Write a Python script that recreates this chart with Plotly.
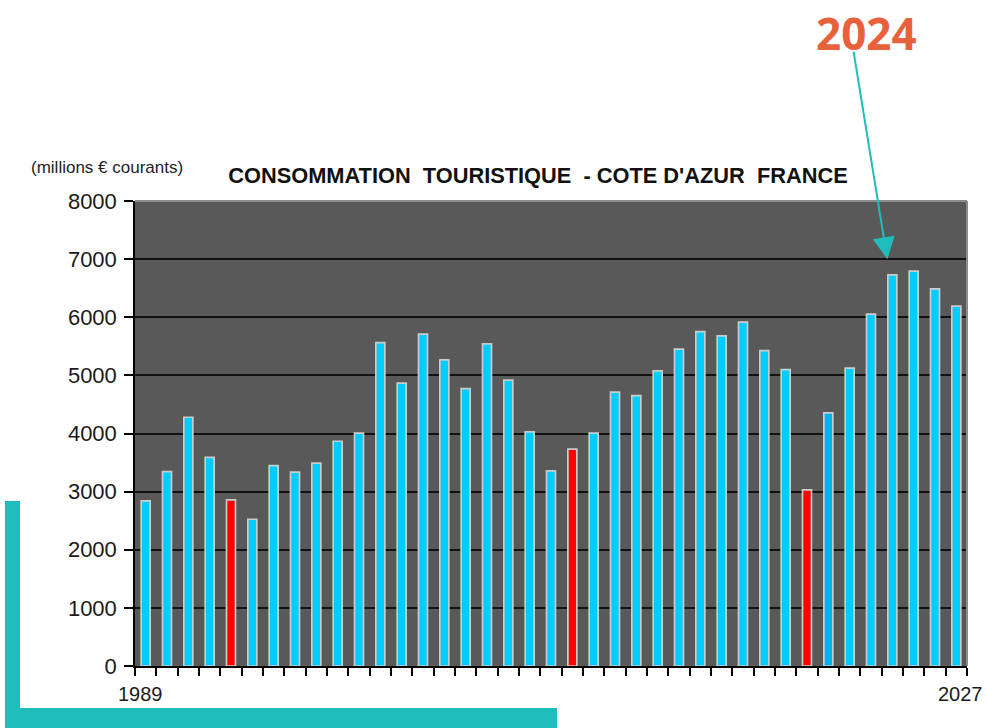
import plotly.graph_objects as go

years = list(range(1989, 2028))
values = [2840, 3345, 4280, 3590, 2857, 2525, 3448, 3334, 3489, 3867,
          4005, 5565, 4866, 5709, 5267, 4773, 5542, 4917, 4028, 3356,
          3730, 4005, 4711, 4653, 5077, 5451, 5754, 5680, 5916, 5427,
          5100, 3029, 4355, 5124, 6053, 6730, 6793, 6489, 6191]
red_years = [1993, 2009, 2020]
dark_years = [2021]
y_ticks = [0, 1000, 2000, 3000, 4000, 5000, 6000, 7000, 8000]
x_labels = [1989, 2027]
highlight_year = 2024

colors = []
for yr in years:
    if yr in red_years:
        colors.append("#ff0000")
    elif yr in dark_years:
        colors.append("#00b0f0")
    else:
        colors.append("#00ccff")

W, H = 987, 728
L, R, T, B = 135, 967, 201, 666

fig = go.Figure()
fig.add_trace(go.Bar(
    x=years, y=values, width=0.42,
    marker=dict(color=colors, line=dict(color="#cccccc", width=1.7)),
    hoverinfo="x+y",
))

fig.update_layout(
    width=W, height=H,
    margin=dict(l=L, r=W - R, t=T, b=H - B, pad=0),
    paper_bgcolor="white",
    plot_bgcolor="#595959",
    showlegend=False,
    font=dict(family="Liberation Sans, Arial, sans-serif", color="#1a1a1a"),
    title=dict(
        text="CONSOMMATION&nbsp;&nbsp;TOURISTIQUE&nbsp;&nbsp;- COTE D'AZUR&nbsp;&nbsp;FRANCE",
        font=dict(size=21.8, family="Liberation Sans, Arial, sans-serif", color="#111111", weight="bold"),
        x=538 / W, xanchor="center", xref="container",
        y=1 - 175 / H, yanchor="middle", yref="container",
    ),
    xaxis=dict(
        range=[1988.5, 2027.5],
        tickvals=[y + 0.5 for y in [1988] + years],
        ticktext=["" for _ in [1988] + years],
        ticks="outside", ticklen=8, tickwidth=1.5, tickcolor="#000000",
        showgrid=False, zeroline=False,
        showline=True, linecolor="#000000", linewidth=1.5,
        mirror=False,
    ),
    yaxis=dict(
        range=[0, 8000],
        tickvals=y_ticks,
        ticks="outside", ticklen=9, tickwidth=1.5, tickcolor="#000000",
        tickfont=dict(size=22, color="#1a1a1a"),
        ticklabelstandoff=3,
        showgrid=True, gridcolor="#111111", gridwidth=1.5,
        zeroline=False,
        showline=True, linecolor="#000000", linewidth=1.5,
    ),
)

# grey border on top and right of the plot area
fig.add_shape(type="line", xref="paper", yref="paper", x0=0, x1=1, y0=1, y1=1,
              line=dict(color="#8c8c8c", width=2))
fig.add_shape(type="line", xref="paper", yref="paper", x0=1, x1=1, y0=0, y1=1,
              line=dict(color="#8c8c8c", width=2))

# teal L decoration
def px_x(p):
    return (p - L) / (R - L)

def px_y(p):
    return (B - p) / (B - T)

fig.add_shape(type="rect", xref="paper", yref="paper",
              x0=px_x(5), x1=px_x(20), y0=px_y(728), y1=px_y(501),
              fillcolor="#20bdbd", line=dict(width=0), layer="above")
fig.add_shape(type="rect", xref="paper", yref="paper",
              x0=px_x(5), x1=px_x(557), y0=px_y(728), y1=px_y(708),
              fillcolor="#20bdbd", line=dict(width=0), layer="above")

# x labels
for yr, xs in zip(x_labels, [-5, 4]):
    fig.add_annotation(x=yr, y=0, xref="x", yref="y", text=str(yr),
                       showarrow=False, yanchor="top", yshift=-15, xshift=xs,
                       font=dict(size=20, color="#1a1a1a"))

# unit label
fig.add_annotation(x=px_x(29), y=px_y(168), xref="paper", yref="paper",
                   text="(millions € courants)", showarrow=False,
                   xanchor="left", yanchor="middle",
                   font=dict(size=17, color="#222222"))

# 2024 highlight
fig.add_annotation(x=px_x(866), y=px_y(33), xref="paper", yref="paper",
                   text="<b>" + str(highlight_year) + "</b>", showarrow=False,
                   xanchor="center", yanchor="middle",
                   font=dict(size=44, color="#e8603c", family="Open Sans, Lato, sans-serif"))
fig.add_annotation(x=highlight_year, y=7000, xref="x", yref="y", xshift=-5,
                   text="", showarrow=True, ax=-34, ay=-209,
                   arrowhead=2, arrowsize=2.2, arrowwidth=2, arrowcolor="#20bdbd")

fig.write_html("out.html", config={"displayModeBar": False},
               post_script="document.body.style.margin='0px';")
